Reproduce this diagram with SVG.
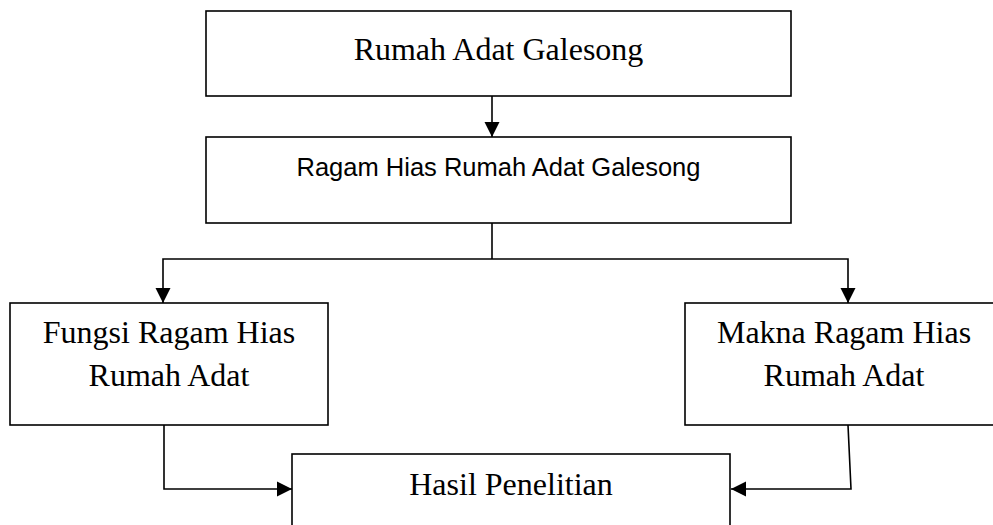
<svg xmlns="http://www.w3.org/2000/svg" width="993" height="525" viewBox="0 0 993 525">
  <style>
    .box { fill: #ffffff; stroke: #000000; stroke-width: 1.6; }
    .serif { font-family: "Liberation Serif", "Times New Roman", serif; font-size: 32px; fill: #000; text-anchor: middle; }
    .sans { font-family: "Liberation Sans", Arial, sans-serif; font-size: 25.5px; fill: #000; text-anchor: middle; }
    .conn { fill: none; stroke: #000000; stroke-width: 1.6; }
  </style>
  <defs>
    <marker id="arrow" markerUnits="userSpaceOnUse" markerWidth="16" markerHeight="16" viewBox="0 0 16 16" refX="15" refY="8" orient="auto">
      <path d="M0,0.5 L15,8 L0,15.5 Z" fill="#000"/>
    </marker>
  </defs>
  <rect width="993" height="525" fill="#ffffff"/>

  <g id="node-rumah-adat">
    <rect class="box" x="206" y="11" width="585" height="85"/>
    <text class="serif" x="498.5" y="60">Rumah Adat Galesong</text>
  </g>

  <g id="node-ragam-hias">
    <rect class="box" x="206" y="137" width="585" height="86"/>
    <text class="sans" x="498.5" y="176">Ragam Hias Rumah Adat Galesong</text>
  </g>

  <g id="node-fungsi">
    <rect class="box" x="10" y="303" width="318" height="122"/>
    <text class="serif" x="169" y="343">Fungsi Ragam Hias</text>
    <text class="serif" x="169" y="386">Rumah Adat</text>
  </g>

  <g id="node-makna">
    <rect class="box" x="685" y="303" width="318" height="122"/>
    <text class="serif" x="844" y="343">Makna Ragam Hias</text>
    <text class="serif" x="844" y="386">Rumah Adat</text>
  </g>

  <g id="node-hasil">
    <rect class="box" x="292" y="454" width="438" height="100"/>
    <text class="serif" x="511" y="495">Hasil Penelitian</text>
  </g>

  <g id="connectors">
    <path class="conn" d="M492,96 L492,137" marker-end="url(#arrow)"/>
    <path class="conn" d="M492,223 L492,259"/>
    <path class="conn" d="M492,259 L163,259 L163,303" marker-end="url(#arrow)"/>
    <path class="conn" d="M492,259 L848,259 L848,303" marker-end="url(#arrow)"/>
    <path class="conn" d="M164,425 L164,489 L292,489" marker-end="url(#arrow)"/>
    <path class="conn" d="M848,425 L851,489 L731,489" marker-end="url(#arrow)"/>
  </g>
</svg>
